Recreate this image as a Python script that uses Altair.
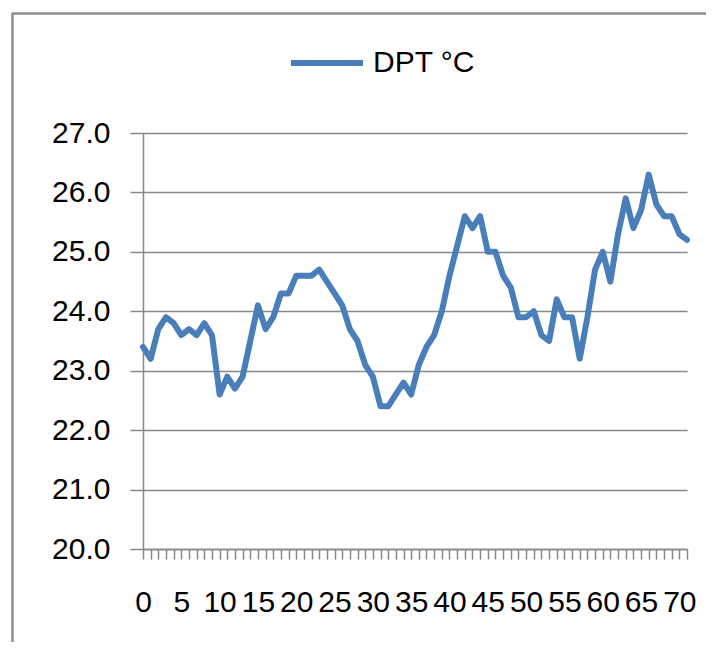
import altair as alt
import pandas as pd

# Data
index = list(range(72))
dpt = [23.4, 23.2, 23.7, 23.9, 23.8, 23.6, 23.7, 23.6, 23.8, 23.6,
       22.6, 22.9, 22.7, 22.9, 23.5, 24.1, 23.7, 23.9, 24.3, 24.3,
       24.6, 24.6, 24.6, 24.7, 24.5, 24.3, 24.1, 23.7, 23.5, 23.1,
       22.9, 22.4, 22.4, 22.6, 22.8, 22.6, 23.1, 23.4, 23.6, 24.0,
       24.6, 25.1, 25.6, 25.4, 25.6, 25.0, 25.0, 24.6, 24.4, 23.9,
       23.9, 24.0, 23.6, 23.5, 24.2, 23.9, 23.9, 23.2, 23.9, 24.7,
       25.0, 24.5, 25.3, 25.9, 25.4, 25.7, 26.3, 25.8, 25.6, 25.6,
       25.3, 25.2]
series_name = "DPT °C"
y_ticks = [20, 21, 22, 23, 24, 25, 26, 27]

df = pd.DataFrame({"idx": index, "value": dpt, "series": [series_name] * len(index)})

FONT = "Liberation Sans"
GRID = "#888888"
BLUE = "#4A7EBB"

line = alt.Chart(df).mark_line(strokeWidth=6, strokeJoin="round", strokeCap="round").encode(
    x=alt.X("idx:Q",
            scale=alt.Scale(domain=[0, 71], nice=False, zero=False),
            axis=alt.Axis(values=index, title=None, grid=False,
                          labelExpr="datum.value % 5 == 0 ? datum.label : ''",
                          tickSize=10, tickColor=GRID, tickWidth=1.5,
                          domainColor=GRID, domainWidth=1.5,
                          labelFont=FONT, labelFontSize=30, labelColor="#000000",
                          labelPadding=28, labelOverlap=False, labelFlush=False)),
    y=alt.Y("value:Q",
            scale=alt.Scale(domain=[20, 27], nice=False, zero=False),
            axis=alt.Axis(values=y_ticks, format=".1f", title=None,
                          grid=True, gridColor=GRID, gridWidth=1.5,
                          tickSize=13, tickColor=GRID, tickWidth=1.5,
                          domainColor=GRID, domainWidth=1.5,
                          labelFont=FONT, labelFontSize=30, labelColor="#000000",
                          labelPadding=20)),
    color=alt.Color("series:N",
                    scale=alt.Scale(domain=[series_name], range=[BLUE]),
                    legend=alt.Legend(title=None, orient="none", legendX=145, legendY=-109,
                                      symbolType="stroke", symbolSize=5184,
                                      symbolStrokeWidth=6, labelFont=FONT,
                                      labelFontSize=30, labelColor="#000000",
                                      labelOffset=7)),
)

border_v = alt.Chart(alt.Data(values=[{}])).mark_rule(color="#8e8e8e", strokeWidth=2.5).encode(
    x=alt.value(-130.5), y=alt.value(-119.5), y2=alt.value(700))
border_h = alt.Chart(alt.Data(values=[{}])).mark_rule(color="#8e8e8e", strokeWidth=2.5).encode(
    x=alt.value(-131.5), x2=alt.value(700), y=alt.value(-119.5))

chart = alt.layer(border_v, border_h, line).properties(
    width=544, height=416,
    padding={"left": 135, "top": 125, "right": 19, "bottom": 93},
    autosize="none",
    background="white",
).configure_view(stroke=None)

chart.save("out.html", embed_options={"renderer": "svg", "actions": False})
